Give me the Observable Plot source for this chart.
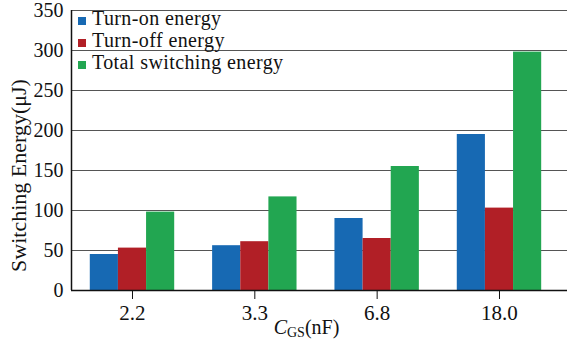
<!DOCTYPE html>
<html>
<head>
<meta charset="utf-8">
<script src="https://cdn.jsdelivr.net/npm/d3@7"></script>
<script src="https://cdn.jsdelivr.net/npm/@observablehq/plot@0.6"></script>
<style>
  body { margin: 0; background: #fff; }
  #wrap { position: relative; width: 567px; height: 344px; font-family: "Liberation Serif", Tinos, "Times New Roman", "DejaVu Serif", serif; }
  #legend { position: absolute; left: 78px; top: 7px; font-size: 20px; line-height: 22.2px; letter-spacing: 0.4px; color: #111; }
  #legend .sw { display: inline-block; width: 8px; height: 8px; margin-right: 6px; }
</style>
</head>
<body>
<div id="wrap"></div>
<script>
// Gate capacitance groups and the three energy series (µJ)
const categories = ["2.2", "3.3", "6.8", "18.0"];
const series = ["Turn-on energy", "Turn-off energy", "Total switching energy"];
const turnOn = [45, 56, 90, 195];
const turnOff = [53, 61, 65, 103];
const total = [98, 117, 155, 298];
const yTicks = [0, 50, 100, 150, 200, 250, 300, 350];
const colors = ["#1769b3", "#b11f26", "#22a651"];

// Grouped bars on a linear x: group i centred on i, three bars side by side
const values = [turnOn, turnOff, total];
const barWidth = 0.23;
const bars = categories.flatMap((c, i) => series.map((s, j) => ({
  series: s,
  value: values[j][i],
  x1: i + (j - 1.5) * barWidth,
  x2: i + (j - 0.5) * barWidth
})));
const xDomain = [-0.4986, 3.556];
const serif = "'Liberation Serif', Tinos, 'Times New Roman', 'DejaVu Serif', serif";
const xTitle = "CGS(nF)";

const chart = Plot.plot({
  width: 567,
  height: 344,
  marginLeft: 71,
  marginRight: 0,
  marginTop: 10,
  marginBottom: 54,
  style: {fontFamily: serif, fontSize: "20px", color: "#111", background: "#fff"},
  x: {domain: xDomain},
  y: {domain: [0, 350]},
  color: {domain: series, range: colors},
  marks: [
    Plot.ruleY(yTicks.slice(1), {stroke: "#555", strokeWidth: 1.2}),
    Plot.rectY(bars, {x1: "x1", x2: "x2", y: "value", fill: "series"}),
    Plot.ruleY([0], {stroke: "#111", strokeWidth: 1.5}),
    Plot.ruleX([xDomain[0]], {stroke: "#111", strokeWidth: 1.5}),
    Plot.axisX(categories.map((c, i) => i), {
      tickFormat: (i) => categories[i], tickSize: 9, tickPadding: 6,
      fontSize: 21, label: null
    }),
    Plot.axisY(yTicks, {tickSize: 0, tickPadding: 8, label: null}),
    Plot.text(["Switching Energy(μJ)"], {
      frameAnchor: "left", textAnchor: "middle", lineAnchor: "middle",
      rotate: -90, dx: -53, dy: 25, fontSize: 22
    }),
    Plot.text([xTitle], {
      frameAnchor: "bottom", textAnchor: "middle", lineAnchor: "middle",
      dx: -13, dy: 37
    })
  ]
});

// Axis title with italic C and subscript GS
const title = d3.select(chart).selectAll("text").filter(function () {
  return this.textContent === xTitle;
});
title.text(null);
title.append("tspan").attr("font-style", "italic").text("C");
title.append("tspan").attr("font-size", 14).attr("dy", 3).text("GS");
title.append("tspan").attr("dy", -3).text("(nF)");

const wrap = d3.select("#wrap");
wrap.node().appendChild(chart);

// Legend in the top-left corner of the plot area
const legend = wrap.append("div").attr("id", "legend");
const rows = legend.selectAll("div").data(series).join("div");
rows.append("span").attr("class", "sw").style("background", (d, i) => colors[i]);
rows.append("span").text((d) => d);
</script>
</body>
</html>
